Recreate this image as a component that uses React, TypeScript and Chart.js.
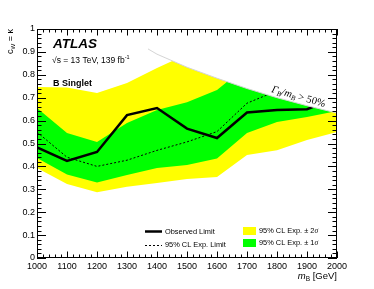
import React, { useEffect, useRef } from "react";
import { Chart, registerables } from "chart.js";
Chart.register(...registerables);

// ---- data ----
const masses = [1000, 1100, 1200, 1300, 1400, 1500, 1600, 1700, 1800, 1900, 2000];
const observed = [0.483, 0.424, 0.463, 0.624, 0.655, 0.565, 0.524, 0.635, 0.646, 0.65, 0.7];
const expected = [0.55, 0.44, 0.4, 0.427, 0.47, 0.507, 0.552, 0.676, 0.73, 0.76, 0.78];
const plus1Sigma = [0.655, 0.546, 0.507, 0.59, 0.646, 0.68, 0.734, 0.84, 0.86, 0.87, 0.88];
const minus1Sigma = [0.437, 0.365, 0.33, 0.362, 0.393, 0.406, 0.435, 0.546, 0.594, 0.616, 0.642];
const plus2Sigma = [0.747, 0.745, 0.72, 0.764, 0.83, 0.89, 0.92, 0.93, 0.94, 0.95, 0.95];
const minus2Sigma = [0.393, 0.323, 0.287, 0.311, 0.327, 0.345, 0.354, 0.45, 0.47, 0.515, 0.55];
const widthLimitMass = [1370, 1400, 1500, 1600, 1700, 1800, 1900, 2000];
const widthLimitValue = [0.913, 0.89, 0.833, 0.785, 0.74, 0.7, 0.665, 0.633];

const SANS = '"Liberation Sans", Arial, Helvetica, sans-serif';
const SERIF = '"Liberation Serif", "Times New Roman", serif';

const pts = (xs: number[], ys: number[]) => xs.map((x, i) => ({ x, y: ys[i] }));

type Part = { t: string; f: string; dy?: number };
function partsWidth(ctx: CanvasRenderingContext2D, parts: Part[]) {
  let w = 0;
  for (const p of parts) { ctx.font = p.f; w += ctx.measureText(p.t).width; }
  return w;
}
function drawParts(ctx: CanvasRenderingContext2D, x: number, y: number, parts: Part[]) {
  let cx = x;
  for (const p of parts) {
    ctx.font = p.f;
    ctx.fillText(p.t, cx, y + (p.dy || 0));
    cx += ctx.measureText(p.t).width;
  }
}

const decor = {
  id: "decor",
  afterDraw(chart: any) {
    const { ctx, chartArea: a, scales } = chart;
    const xs = scales.x, ys = scales.y;
    ctx.save();
    ctx.strokeStyle = "#000";
    ctx.fillStyle = "#000";
    ctx.lineWidth = 1;
    // frame
    ctx.strokeRect(a.left + 0.5, a.top + 0.5, a.right - a.left - 1, a.bottom - a.top - 1);
    // ticks
    ctx.beginPath();
    for (let m = 1000; m <= 2000; m += 20) {
      const px = Math.round(xs.getPixelForValue(m)) + 0.5;
      const len = m % 100 === 0 ? 6.5 : 3.5;
      ctx.moveTo(px, a.bottom); ctx.lineTo(px, a.bottom - len);
      ctx.moveTo(px, a.top); ctx.lineTo(px, a.top + len);
    }
    for (let k = 0; k <= 50; k++) {
      const py = Math.round(ys.getPixelForValue(k / 50)) + 0.5;
      const len = k % 5 === 0 ? 9 : 4.5;
      ctx.moveTo(a.left, py); ctx.lineTo(a.left + len, py);
      ctx.moveTo(a.right, py); ctx.lineTo(a.right - len, py);
    }
    ctx.stroke();

    ctx.textBaseline = "alphabetic";
    ctx.textAlign = "left";
    // ATLAS label block
    drawParts(ctx, 53, 48, [{ t: "ATLAS", f: `italic bold 13.5px ${SANS}` }]);
    drawParts(ctx, 52, 62.5, [
      { t: "\u221As = 13 TeV, 139 fb", f: `8.5px ${SANS}` },
      { t: "-1", f: `5.5px ${SANS}`, dy: -4 },
    ]);
    drawParts(ctx, 53, 86, [{ t: "B Singlet", f: `bold 9px ${SANS}` }]);

    // width-limit label
    ctx.save();
    ctx.translate(271, 92);
    ctx.rotate(Math.atan2(17, 60));
    drawParts(ctx, 0, 0, [
      { t: "\u0393", f: `italic 10.5px ${SERIF}` },
      { t: "B", f: `italic 7px ${SERIF}`, dy: 2 },
      { t: "/m", f: `italic 10.5px ${SERIF}` },
      { t: "B", f: `italic 7px ${SERIF}`, dy: 2 },
      { t: " > 50%", f: `10.5px ${SERIF}` },
    ]);
    ctx.restore();

    // y axis title (rotated, aligned to top)
    ctx.save();
    ctx.translate(12.5, 29);
    ctx.rotate(-Math.PI / 2);
    const yParts: Part[] = [
      { t: "c", f: `9px ${SANS}` },
      { t: "W", f: `6px ${SANS}`, dy: 2.5 },
      { t: " = ", f: `9px ${SANS}` },
      { t: "\u03BA", f: `9px ${SANS}` },
    ];
    drawParts(ctx, -partsWidth(ctx, yParts), 0, yParts);
    ctx.restore();

    // x axis title (right aligned)
    const xParts: Part[] = [
      { t: "m", f: `italic 9.5px ${SANS}` },
      { t: "B", f: `6.5px ${SANS}`, dy: 2.5 },
      { t: " [GeV]", f: `9.5px ${SANS}` },
    ];
    drawParts(ctx, 337 - partsWidth(ctx, xParts), 278.5, xParts);

    // legend
    ctx.textBaseline = "middle";
    ctx.lineWidth = 2.5;
    ctx.beginPath(); ctx.moveTo(145, 231.5); ctx.lineTo(162, 231.5); ctx.stroke();
    ctx.lineWidth = 1;
    ctx.setLineDash([2, 2]);
    ctx.beginPath(); ctx.moveTo(145, 245.5); ctx.lineTo(162, 245.5); ctx.stroke();
    ctx.setLineDash([]);
    drawParts(ctx, 165, 231.5, [{ t: "Observed Limit", f: `7.4px ${SANS}` }]);
    drawParts(ctx, 165, 245, [{ t: "95% CL Exp. Limit", f: `7.4px ${SANS}` }]);
    ctx.fillStyle = "#ffff00";
    ctx.fillRect(243, 227, 13, 8);
    ctx.fillStyle = "#00ff00";
    ctx.fillRect(243, 239, 13, 8);
    ctx.fillStyle = "#000";
    drawParts(ctx, 259, 231, [
      { t: "95% CL Exp. \u00B1 2", f: `7.4px ${SANS}` },
      { t: "\u03C3", f: `italic 7.4px ${SERIF}` },
    ]);
    drawParts(ctx, 259, 243, [
      { t: "95% CL Exp. \u00B1 1", f: `7.4px ${SANS}` },
      { t: "\u03C3", f: `italic 7.4px ${SERIF}` },
    ]);
    ctx.restore();
  },
};

export default function App() {
  const ref = useRef<HTMLCanvasElement | null>(null);
  useEffect(() => {
    if (!ref.current) return;
    const band = { pointRadius: 0, borderWidth: 0, borderColor: "transparent", tension: 0 };
    const chart = new Chart(ref.current, {
      type: "line",
      data: {
        datasets: [
          { ...band, data: pts(masses, plus2Sigma), fill: "+1", backgroundColor: "#ffff00", order: 10 },
          { ...band, data: pts(masses, minus2Sigma), fill: false, order: 9 },
          { ...band, data: pts(masses, plus1Sigma), fill: "+1", backgroundColor: "#00ff00", order: 8 },
          { ...band, data: pts(masses, minus1Sigma), fill: false, order: 7 },
          {
            data: pts(masses, expected), fill: false, pointRadius: 0, borderColor: "#000",
            borderWidth: 1, borderDash: [2, 2], tension: 0, order: 6,
          },
          {
            data: pts(masses, observed), fill: false, pointRadius: 0, borderColor: "#000",
            borderWidth: 2.5, tension: 0, order: 5,
          },
          {
            data: pts(widthLimitMass, widthLimitValue), fill: "end", backgroundColor: "#ffffff",
            pointRadius: 0, borderColor: "#d4d4d4", borderWidth: 1, tension: 0, order: 1,
          },
        ],
      },
      options: {
        responsive: false,
        animation: false,
        events: [],
        layout: { padding: { left: 0, right: 37, top: 29, bottom: 0 } },
        plugins: { legend: { display: false }, tooltip: { enabled: false } },
        scales: {
          x: {
            type: "linear", min: 1000, max: 2000,
            grid: { display: false, drawTicks: false }, border: { display: false },
            ticks: {
              stepSize: 100, autoSkip: false, maxRotation: 0, padding: 3, color: "#000",
              font: { family: SANS, size: 9 }, callback: (v: any) => String(v),
            },
            afterFit: (s: any) => { s.height = 31; },
          },
          y: {
            type: "linear", min: 0, max: 1,
            grid: { display: false, drawTicks: false }, border: { display: false },
            ticks: {
              stepSize: 0.1, padding: 2, color: "#000", font: { family: SANS, size: 9 },
              callback: (v: any) => String(Math.round(v * 10) / 10),
            },
            afterFit: (s: any) => { s.width = 37; },
          },
        },
      },
      plugins: [decor],
    } as any);
    return () => chart.destroy();
  }, []);
  return (
    <div style={{ position: "fixed", left: 0, top: 0, width: 374, height: 289, background: "#fff" }}>
      <canvas ref={ref} width={374} height={289} />
    </div>
  );
}
